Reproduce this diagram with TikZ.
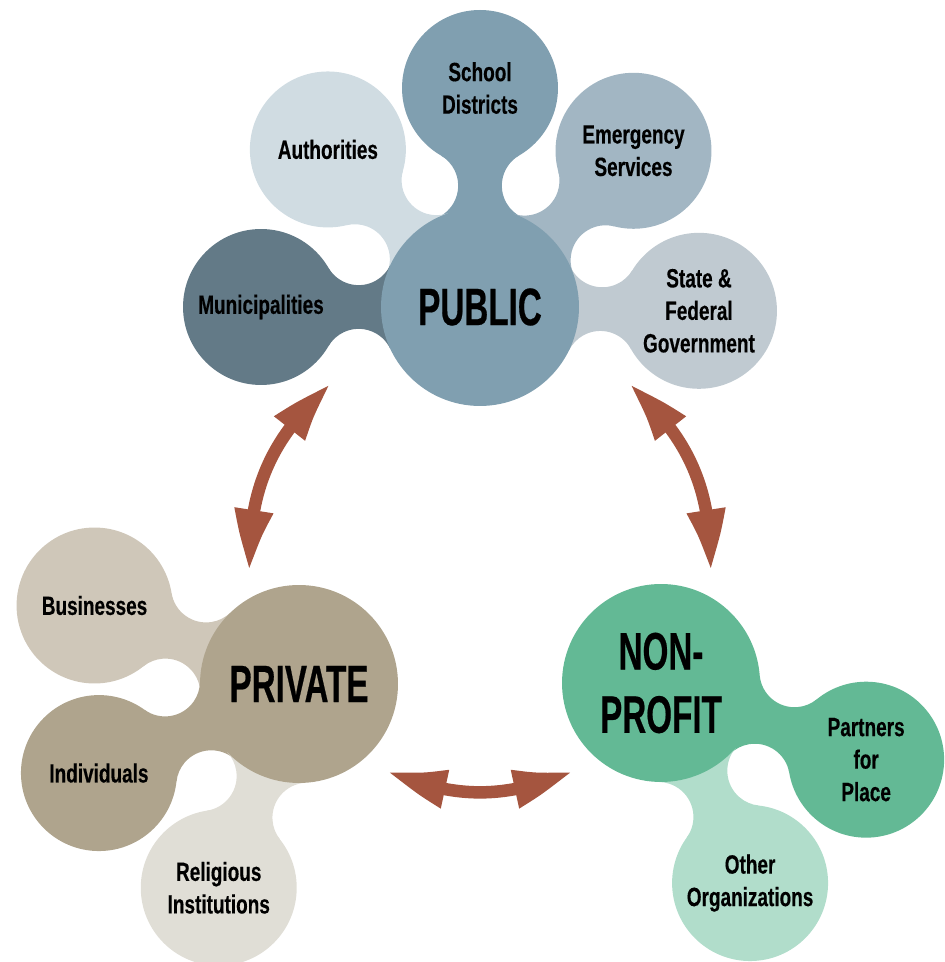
\documentclass[tikz,border=0pt]{standalone}
\usepackage{fontspec}
\setmainfont{Liberation Sans}[FakeStretch=0.72, BoldFeatures={FakeBold=0.35}]
\newfontfamily\hubfont{Liberation Sans}[FakeStretch=0.63, BoldFeatures={FakeBold=0.4}]
\usetikzlibrary{calc,backgrounds,arrows.meta,bending}

\definecolor{pubc}{HTML}{809FB0}
\definecolor{authc}{HTML}{D0DCE2}
\definecolor{munic}{HTML}{637A87}
\definecolor{emerc}{HTML}{A2B6C3}
\definecolor{statec}{HTML}{C0CAD1}
\definecolor{privc}{HTML}{AFA48D}
\definecolor{busc}{HTML}{CFC7B9}
\definecolor{relc}{HTML}{E0DED6}
\definecolor{npc}{HTML}{63B995}
\definecolor{othc}{HTML}{B1DDCB}
\definecolor{arrowc}{HTML}{A5553F}

\tikzset{
  hub/.style={circle, inner sep=0pt, minimum size=3.96cm, align=center,
    font=\hubfont\bfseries\fontsize{30}{36}\selectfont},
  sat/.style={circle, inner sep=0pt, minimum size=3.12cm, align=center,
    font=\bfseries\fontsize{15}{18.5}\selectfont},
  link/.style={draw=arrowc, line width=0.25cm,
    {Triangle[length=1.3cm,width=0.7cm,bend]}-{Triangle[length=1.3cm,width=0.7cm,bend]}},
}

% neck from a hub (radius 99) to the satellite at angle #2 (radius 78, distance 219)
\newcommand\neck[3]{%
  \pgfmathsetmacro\nkd{2.19}
  \pgfmathsetmacro\nka{1.34}
  \pgfmathsetmacro\nkb{1.13}
  \pgfmathsetmacro\nkx{(\nka*\nka-\nkb*\nkb+\nkd*\nkd)/(2*\nkd)}
  \pgfmathsetmacro\nkh{sqrt(\nka*\nka-\nkx*\nkx)}
  \pgfmathsetmacro\nkal{atan2(\nkh,\nkx)}
  \pgfmathsetmacro\nkbe{atan2(\nkh,\nkd-\nkx)}
  \pgfmathsetmacro\nktx{219-78*cos(\nkbe)}
  \pgfmathsetmacro\nkty{78*sin(\nkbe)}
  \fill[#3, shift={(#1)}, rotate=#2]
    (\nkal:99) arc[start angle=\nkal-180, end angle=-\nkbe, radius=35]
    -- (\nktx,-\nkty) arc[start angle=\nkbe, end angle=180-\nkal, radius=35] -- cycle;
}

\begin{document}
\begin{tikzpicture}[x=0.02cm, y=0.02cm]
	\useasboundingbox (0,0) rectangle (945,962);

	% public
	\node[hub, fill=pubc] (pub) at (480,655) {PUBLIC};
	\node[sat, fill=pubc] (sch) at ($(pub)+(90:219)$) {School\\Districts};
	\node[sat, fill=authc] (auth) at ($(pub)+(134:219)$) {Authorities};
	\node[sat, fill=emerc] (emer) at ($(pub)+(45.5:219)$) {Emergency\\Services};
	\node[sat, fill=statec] (state) at ($(pub)+(-1:219)$) {State \&\\Federal\\Government};
	\node[sat, fill=munic] (muni) at ($(pub)+(180:219)$) {Municipalities};

	% private
	\node[hub, fill=privc] (priv) at (299,278) {PRIVATE};
	\node[sat, fill=busc] (bus) at ($(priv)+(159:219)$) {Businesses};
	\node[sat, fill=privc] (ind) at ($(priv)+(204:219)$) {Individuals};
	\node[sat, fill=relc] (rel) at ($(priv)+(248.5:219)$) {Religious\\Institutions};

	% non-profit
	\node[hub, fill=npc] (np) at (661,279) {NON-\\PROFIT};
	\node[sat, fill=npc] (pfp) at ($(np)+(-20.5:219)$) {Partners\\for\\Place};
	\node[sat, fill=othc] (oth) at ($(np)+(-66:219)$) {Other\\Organizations};

	\begin{scope}[on background layer]
		\neck{pub}{90}{pubc}
		\neck{pub}{134}{authc}
		\neck{pub}{45.5}{emerc}
		\neck{pub}{-1}{statec}
		\neck{pub}{180}{munic}
		\neck{priv}{159}{busc}
		\neck{priv}{204}{privc}
		\neck{priv}{248.5}{relc}
		\neck{np}{-20.5}{npc}
		\neck{np}{-66}{othc}
	\end{scope}

	% arrows between the sectors
	\coordinate (ctr) at (480,402);
	\coordinate (pubL) at ($(ctr)+(130:230)$);
	\coordinate (privT) at ($(ctr)+(183:230)$);
	\coordinate (privR) at ($(ctr)+(246:230)$);
	\coordinate (npL) at ($(ctr)+(294:230)$);
	\coordinate (npT) at ($(ctr)+(-3:230)$);
	\coordinate (pubR) at ($(ctr)+(50:230)$);

	\draw[link] (pubL) to[bend right=26] (privT);
	\draw[link] (privR) to[bend right=24] (npL);
	\draw[link] (npT) to[bend right=26] (pubR);
\end{tikzpicture}
\end{document}
